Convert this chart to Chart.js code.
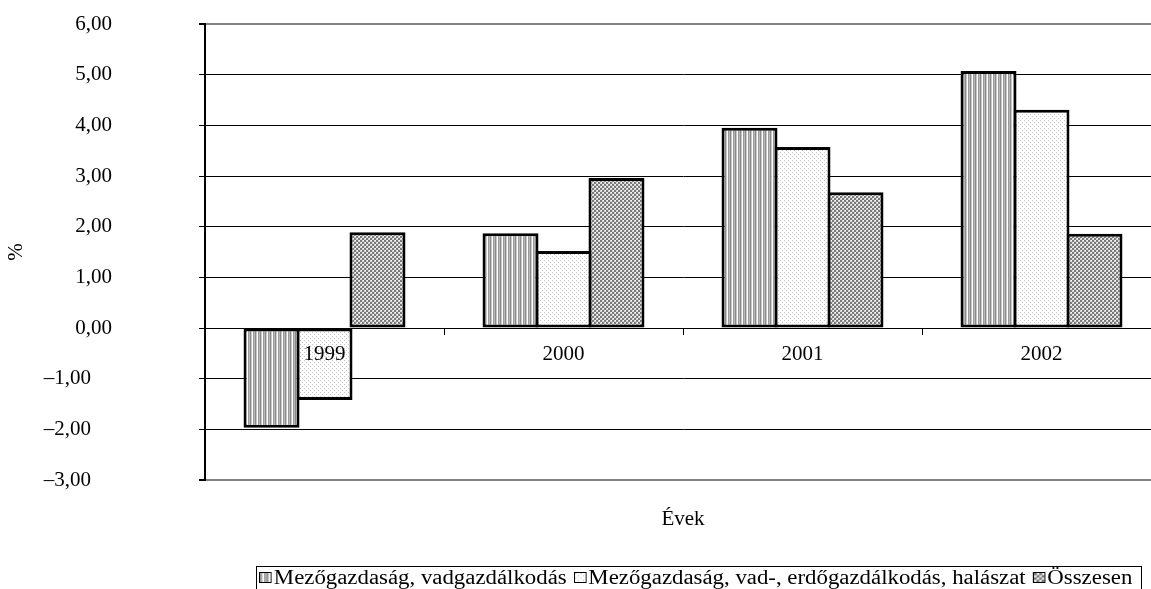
<!DOCTYPE html>
<html>
<head>
<meta charset="utf-8">
<script src="https://cdn.jsdelivr.net/npm/chart.js@4/dist/chart.umd.min.js"></script>
<style>
  html, body { margin: 0; padding: 0; background: #fff; overflow: hidden; }
  #wrap { position: relative; width: 1161px; height: 589px; }
  #legend {
    position: absolute; left: 256px; top: 566px; width: 884px; height: 22px;
    border: 1px solid #000; background: #fff; overflow: hidden;
    font-family: "Liberation Serif", "Times New Roman", serif; font-size: 20px; color: #000;
  }
  #legendInner { position: absolute; left: 2px; top: -2px; white-space: nowrap; transform-origin: 0 0; }
  .item { display: inline-flex; align-items: center; margin-right: 6px; }
  .item canvas { width: 11px; height: 11px; border: 1.5px solid #000; margin-right: 2px; box-sizing: border-box; }
</style>
</head>
<body>
<div id="wrap">
  <canvas id="c"></canvas>
  <div id="legend"><div id="legendInner"></div></div>
</div>
<script>
const categories = ['1999', '2000', '2001', '2002'];
const seriesNames = ['Mezőgazdaság, vadgazdálkodás', 'Mezőgazdaság, vad-, erdőgazdálkodás, halászat', 'Összesen'];
const mezogazdasag = [-1.97, 1.87, 3.95, 5.07];
const mezogazdasagHalaszat = [-1.42, 1.52, 3.57, 4.31];
const osszesen = [1.89, 2.96, 2.68, 1.86];
const yTicks = [-3, -2, -1, 0, 1, 2, 3, 4, 5, 6];

function makePattern(kind) {
  const c = document.createElement('canvas');
  const ctx = c.getContext('2d');
  if (kind === 0) {
    c.width = 5; c.height = 1;
    const cols = ['#8a8a8a', '#c8c8c8', '#ffffff', '#9a9a9a', '#b8b8b8'];
    cols.forEach((col, i) => { ctx.fillStyle = col; ctx.fillRect(i, 0, 1, 1); });
  } else if (kind === 1) {
    c.width = 4; c.height = 4;
    ctx.fillStyle = '#ffffff'; ctx.fillRect(0, 0, 4, 4);
    ctx.fillStyle = '#c4c4c4'; ctx.fillRect(0, 0, 1, 1); ctx.fillRect(2, 2, 1, 1);
  } else {
    c.width = 4; c.height = 4;
    ctx.fillStyle = '#d8d8d8'; ctx.fillRect(0, 0, 4, 4);
    ctx.fillStyle = '#7a7a7a';
    ctx.fillRect(0, 0, 2, 2); ctx.fillRect(2, 2, 2, 2);
    ctx.fillStyle = '#ffffff'; ctx.fillRect(3, 0, 1, 1); ctx.fillRect(1, 2, 1, 1);
  }
  return c;
}
const patCanvases = [makePattern(0), makePattern(1), makePattern(2)];
const mainCtx = document.getElementById('c').getContext('2d');
const patterns = patCanvases.map(pc => mainCtx.createPattern(pc, 'repeat'));

const font = { family: '"Liberation Serif", "Times New Roman", serif', size: 21 };
// negative values carry trailing figure spaces (as in the source format)
const fmt = v => v < 0
  ? '\u2013' + Math.abs(v).toFixed(2).replace('.', ',') + '\u2007\u2007'
  : v.toFixed(2).replace('.', ',');

const values = [mezogazdasag, mezogazdasagHalaszat, osszesen];
const datasets = values.map((arr, i) => ({
  label: seriesNames[i],
  data: arr,
  backgroundColor: patterns[i],
  borderColor: '#000',
  borderWidth: 3,
  borderSkipped: false,
  categoryPercentage: 0.665,
  barPercentage: 1.057
}));

new Chart(mainCtx, {
  type: 'bar',
  data: { labels: categories, datasets },
  options: {
    responsive: true,
    maintainAspectRatio: false,
    animation: false,
    layout: { padding: { top: 24, left: 0, right: 0, bottom: 0 } },
    plugins: { legend: { display: false }, tooltip: { enabled: false } },
    scales: {
      x: {
        type: 'category',
        position: { y: 0 },
        grid: { display: true, drawOnChartArea: false, drawTicks: true, tickLength: 7, tickColor: '#000', tickWidth: 1, offset: true },
        border: { display: false },
        ticks: { color: '#000', font, padding: 7, maxRotation: 0, autoSkip: false, z: 1 },
        afterFit: s => { s.height = 0; }
      },
      x2: {
        type: 'category',
        position: 'bottom',
        labels: categories,
        grid: { display: false },
        border: { display: false },
        ticks: { display: false },
        title: { display: true, text: 'Évek', color: '#000', font, padding: { top: 0, bottom: 57 } },
        afterFit: s => { s.height = 109; }
      },
      y: {
        min: -3, max: 6,
        afterBuildTicks: s => { s.ticks = yTicks.map(v => ({ value: v })); },
        grid: {
          color: c => (c.tick && (c.tick.value === 6 || c.tick.value === -3)) ? '#808080' : '#000',
          lineWidth: c => (c.tick && (c.tick.value === 6 || c.tick.value === -3)) ? 2 : 1,
          tickColor: '#000', tickLength: 6, drawTicks: true
        },
        border: { display: true, color: '#000', width: 2 },
        ticks: { color: '#000', font, padding: 87, callback: v => fmt(v) },
        title: { display: true, text: '%', color: '#000', font, padding: { top: 4, bottom: 4 } },
        afterFit: s => { s.width = 205; s.paddingTop = 0; s.paddingBottom = 0; }
      }
    }
  }
});

// HTML legend
const inner = document.getElementById('legendInner');
seriesNames.forEach((name, i) => {
  const item = document.createElement('span');
  item.className = 'item';
  const sw = document.createElement('canvas');
  sw.width = 8; sw.height = 8;
  const sctx = sw.getContext('2d');
  sctx.fillStyle = sctx.createPattern(patCanvases[i], 'repeat');
  sctx.fillRect(0, 0, 8, 8);
  item.appendChild(sw);
  const t = document.createElement('span');
  t.textContent = name;
  item.appendChild(t);
  inner.appendChild(item);
});
const natural = inner.scrollWidth;
const target = 880;
inner.style.transform = 'scaleX(' + (target / natural) + ')';
</script>
</body>
</html>
